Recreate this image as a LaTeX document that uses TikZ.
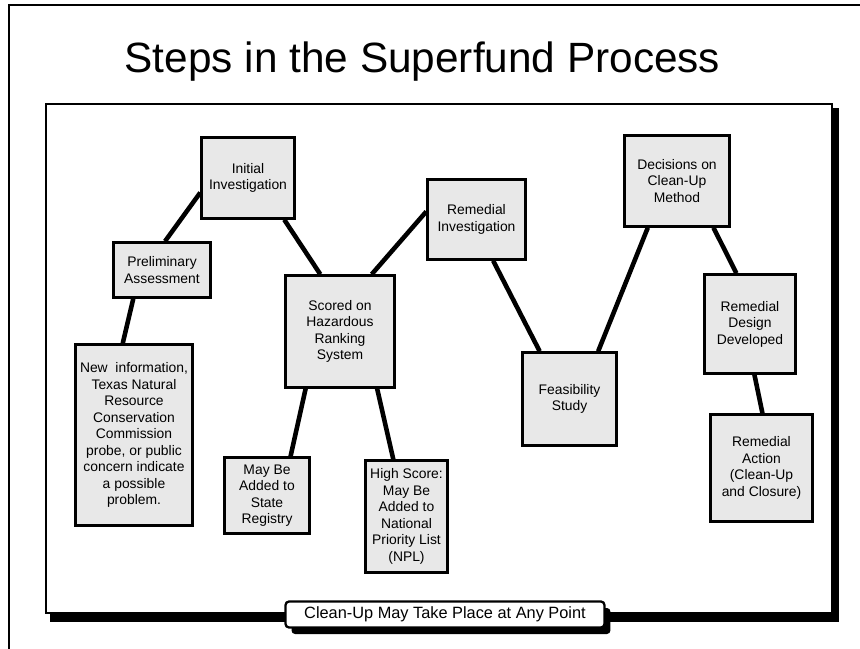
\documentclass[tikz,border=0pt]{standalone}
\usepackage{fontspec}
\setmainfont{Liberation Sans}
\usetikzlibrary{shadows}
\definecolor{boxgray}{RGB}{232,232,232}
\tikzset{
  stepbox/.style={draw, line width=1.4pt, fill=boxgray, align=center, inner sep=1pt,
    font=\fontsize{7.9}{9.4}\selectfont},
  link/.style={line width=2.6pt},
}

\begin{document}
\begin{tikzpicture}[x=0.02cm, y=-0.02cm]
	\useasboundingbox (0,0) rectangle (860,649);
	% frame of the page
	\draw[line width=1.3pt] (9,649) -- (9,5) -- (860,5);
	\node[font=\fontsize{24.1}{29}\selectfont, anchor=base] (title) at (422.5,72) {Steps in the Superfund Process};
	% panel and its shadow
	\fill (50,108) rectangle (839,622);
	\draw[line width=1.3pt, fill=white] (46,104) rectangle (832,613);
	% steps
	\node[stepbox, minimum width=1.86cm, minimum height=1.62cm] (initial) at (248,178) {Initial\\Investigation};
	\node[stepbox, minimum width=1.94cm, minimum height=1.10cm] (prelim) at (162,270) {Preliminary\\Assessment};
	\node[stepbox, minimum width=2.34cm, minimum height=3.62cm] (newinfo) at (134,435) {New\ \ information,\\Texas Natural\\Resource\\Conservation\\Commission\\probe, or public\\concern indicate\\a possible\\problem.};
	\node[stepbox, minimum width=2.18cm, minimum height=2.24cm] (scored) at (340,331.5) {Scored on\\Hazardous\\Ranking\\System};
	\node[stepbox, minimum width=1.96cm, minimum height=1.60cm] (reminv) at (476.5,219.5) {Remedial\\Investigation};
	\node[stepbox, minimum width=2.10cm, minimum height=1.82cm] (decide) at (677,181) {Decisions on\\Clean-Up\\Method};
	\node[stepbox, minimum width=1.82cm, minimum height=1.98cm] (design) at (750,324) {Remedial\\Design\\Developed};
	\node[stepbox, minimum width=1.88cm, minimum height=1.86cm] (feas) at (569.5,399) {Feasibility\\Study};
	\node[stepbox, minimum width=2.04cm, minimum height=2.14cm] (action) at (761.5,468) {Remedial\\Action\\(Clean-Up\\and Closure)};
	\node[stepbox, minimum width=1.70cm, minimum height=1.52cm] (state) at (267,495.5) {May Be\\Added to\\State\\Registry};
	\node[stepbox, minimum width=1.64cm, minimum height=2.24cm] (npl) at (406.5,516.5) {High Score:\\May Be\\Added to\\National\\Priority List\\(NPL)};
	% links
	\draw[link] (newinfo.97) -- (prelim.225);
	\draw[link] (prelim.84) -- (initial.197);
	\draw[link] (initial.311.4) -- (scored.109.2);
	\draw[link] (scored.61.7) -- (reminv.171.6);
	\draw[link] (scored.239.4) -- (state.59.8);
	\draw[link] (scored.303.5) -- (npl.103.2);
	\draw[link] (reminv.292.9) -- (feas.122.4);
	\draw[link] (feas.59.3) -- (decide.238.3);
	\draw[link] (decide.308.2) -- (design.105.4);
	\draw[link] (design.275.6) -- (action.89.5);
	% note at the bottom
	\node[draw, line width=1.3pt, fill=white, rounded corners=2pt, inner sep=0pt,
		minimum width=6.38cm, minimum height=0.52cm, font=\fontsize{9.3}{11}\selectfont,
		drop shadow={shadow xshift=3.4pt, shadow yshift=-3.7pt, opacity=1, fill=black}]
		(note) at (445,614.5) {Clean-Up May Take Place at Any Point};
\end{tikzpicture}
\end{document}
